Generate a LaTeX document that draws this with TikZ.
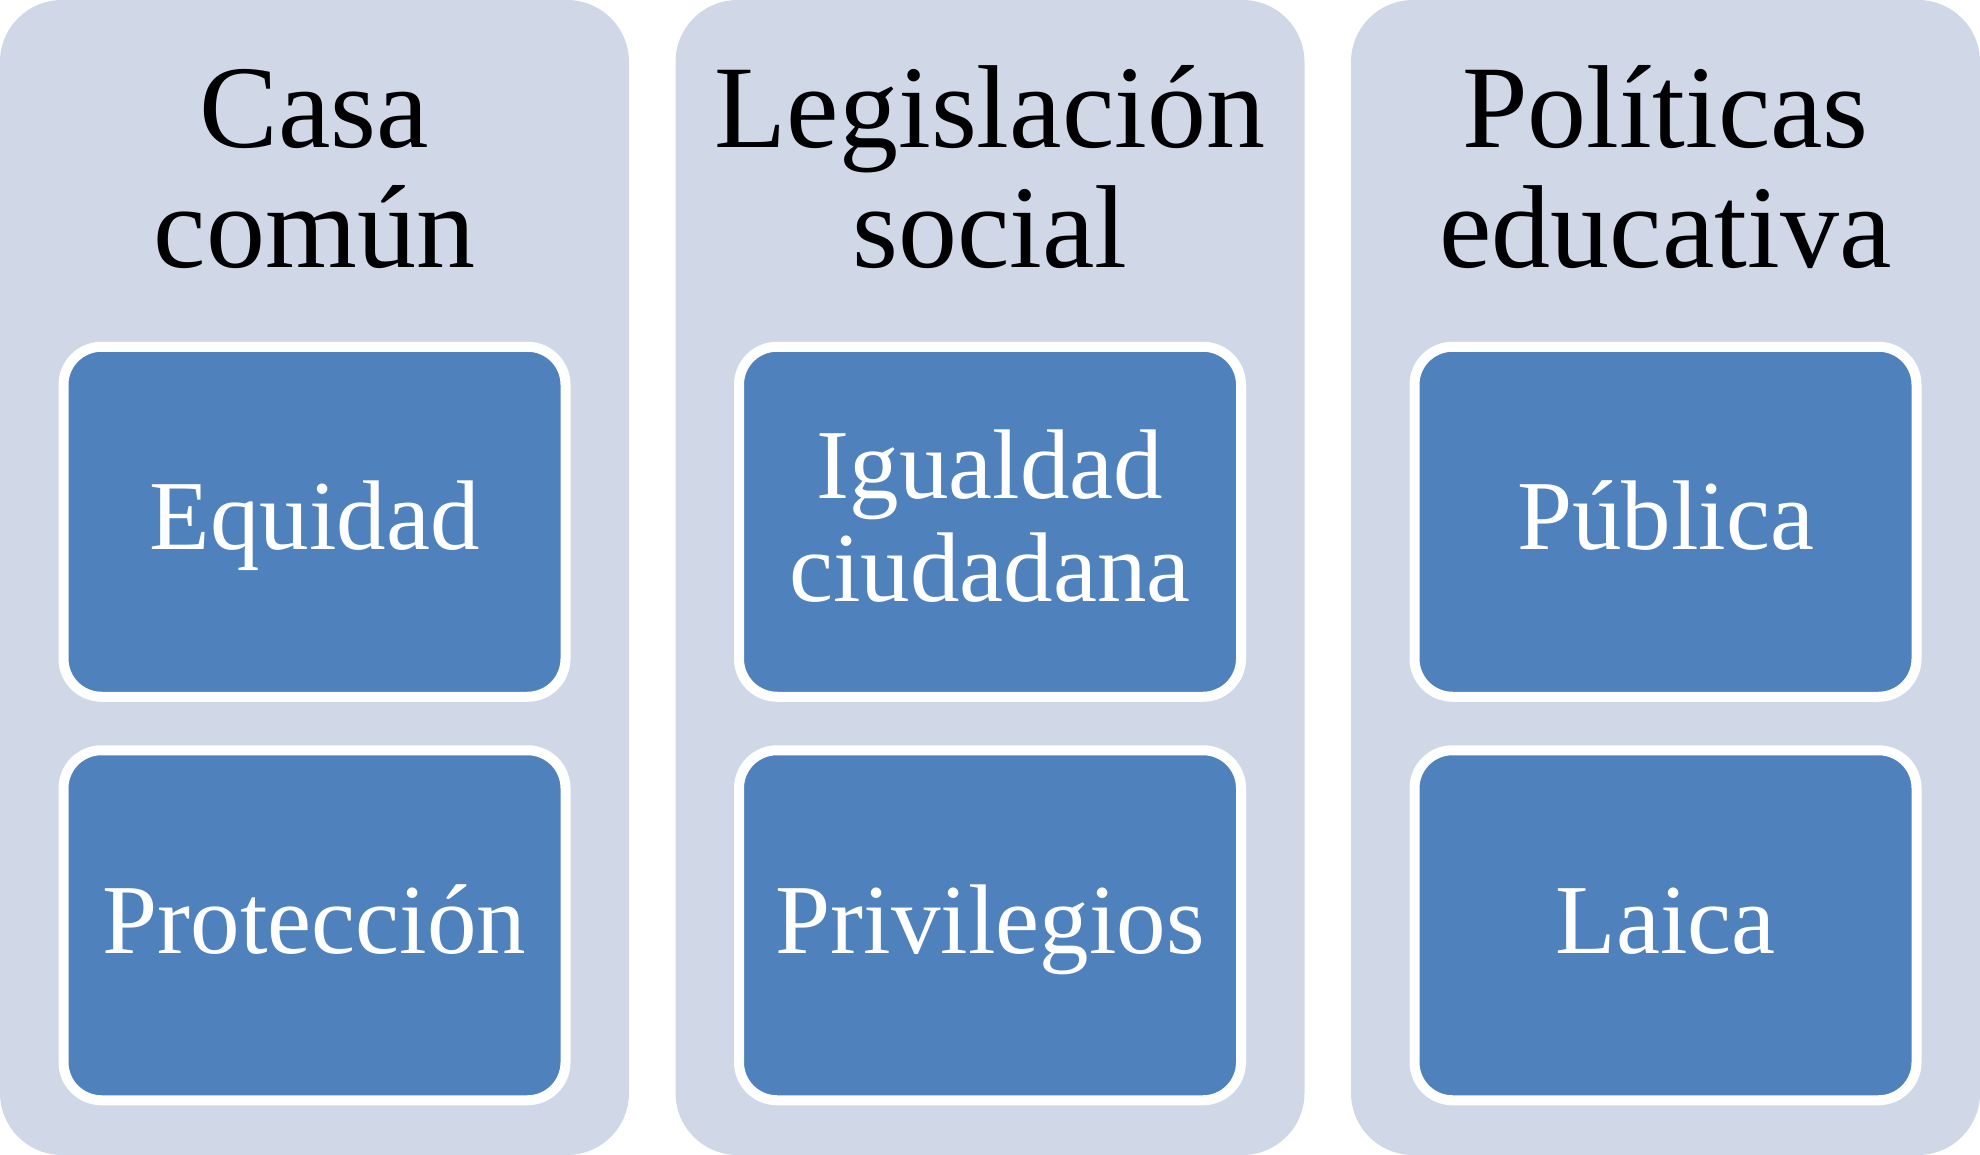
\documentclass[tikz,border=0pt]{standalone}
\usepackage{fontspec}
\setmainfont{Liberation Serif}
\usetikzlibrary{positioning}
\definecolor{colfill}{HTML}{D0D8E8}
\definecolor{boxfill}{HTML}{4F81BD}

\begin{document}
\begin{tikzpicture}
[x=0.5pt,y=-0.5pt,
column/.style={rectangle,rounded corners=31pt,fill=colfill,minimum
width=314.5pt,minimum height=577.5pt,inner sep=0pt},
titlenode/.style={align=center,inner sep=0pt,anchor=base,
font=\fontsize{59pt}{60pt}\selectfont},
itembox/.style={rectangle,rounded corners=19pt,draw=white,line
width=5pt,fill=boxfill,minimum width=251pt,minimum height=175pt,
inner sep=0pt,text=white,align=center,text height=36pt,text depth=8pt,
font=\fontsize{49.5pt}{51.5pt}\selectfont},
twoline/.style={text height=87.5pt}
]
\useasboundingbox (0,0) rectangle (1980,1155);
% columns
\node [column] (colCasa) at (314.5,577.5) {};
\node [column] (colLeg) at (990,577.5) {};
\node [column] (colPol) at (1665.5,577.5) {};
% titles
\node [titlenode] (tCasa) at (314.5,268) {Casa\\común};
\node [titlenode] (tLeg) at (990,268) {Legislación\\social};
\node [titlenode] (tPol) at (1665.5,268) {Políticas\\educativa};
% items
\node [itembox] (bEquidad) at (314.5,521.75) {Equidad};
\node [itembox,below=21.75pt of bEquidad] (bProteccion) {Protección};
\node [itembox,twoline] (bIgualdad) at (990,521.75) {Igualdad\\ciudadana};
\node [itembox,below=21.75pt of bIgualdad] (bPrivilegios) {Privilegios};
\node [itembox] (bPublica) at (1665.5,521.75) {Pública};
\node [itembox,below=21.75pt of bPublica] (bLaica) {Laica};
\end{tikzpicture}
\end{document}
